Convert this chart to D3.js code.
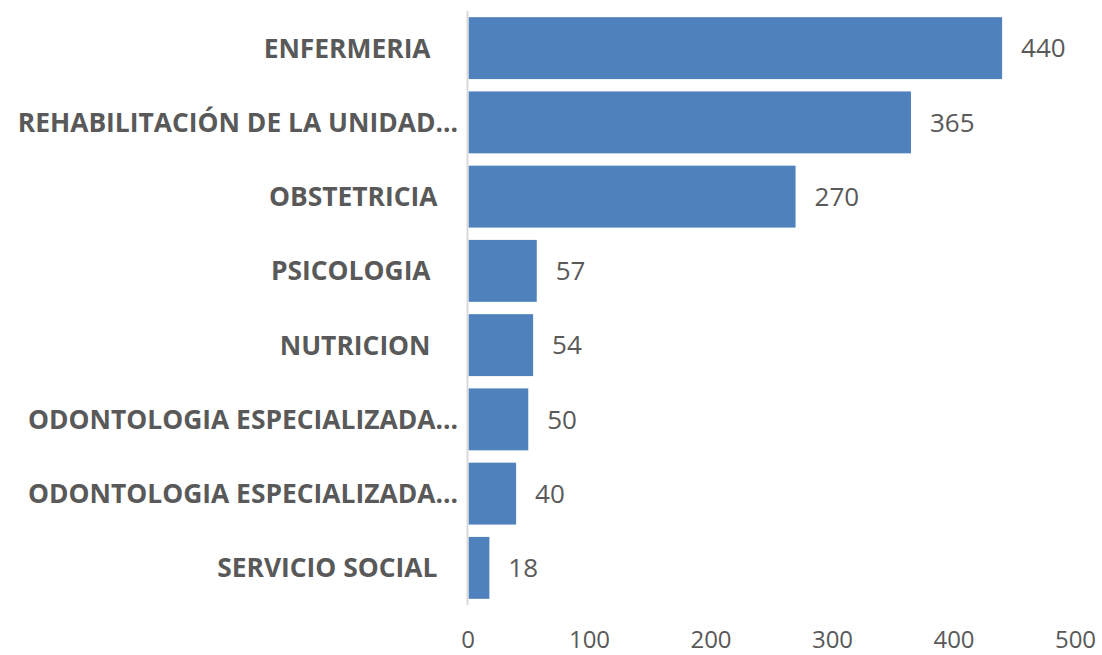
<!DOCTYPE html>
<html>
<head>
<meta charset="utf-8">
<script src="https://cdn.jsdelivr.net/npm/d3@7"></script>
<style>
  body { margin: 0; background: #fff; }
</style>
</head>
<body>
<div id="chart"></div>
<script>
// labels keep the trailing spaces they carry in the source sheet
const categories = [
  "ENFERMERIA\u00a0\u00a0\u00a0\u00a0",
  "REHABILITACIÓN DE LA UNIDAD...",
  "OBSTETRICIA\u00a0\u00a0\u00a0",
  "PSICOLOGIA\u00a0\u00a0\u00a0\u00a0",
  "NUTRICION\u00a0\u00a0\u00a0\u00a0",
  "ODONTOLOGIA ESPECIALIZADA...",
  "ODONTOLOGIA ESPECIALIZADA...",
  "SERVICIO SOCIAL\u00a0\u00a0\u00a0"
];
const values = [440, 365, 270, 57, 54, 50, 40, 18];
const ticks = [0, 100, 200, 300, 400, 500];

const width = 1102;
const height = 655;
const x0 = 467.5, x1 = 1075; // plot area left/right
const y0 = 11, y1 = 605;

const svg = d3.select("#chart")
  .append("svg")
  .attr("width", width)
  .attr("height", height);

const x = d3.scaleLinear().domain([0, 500]).range([x0, x1]);
const y = d3.scaleBand()
  .domain(d3.range(categories.length))
  .range([y0, y1])
  .paddingInner(0.166)
  .paddingOuter(0.083);

// bars
svg.selectAll("rect.bar")
  .data(values)
  .enter()
  .append("rect")
  .attr("class", "bar")
  .attr("x", x(0) + 1)
  .attr("y", (d, i) => y(i))
  .attr("width", d => x(d) - x(0) - 1)
  .attr("height", y.bandwidth())
  .attr("fill", "#4f81bd");

// vertical axis line
svg.append("line")
  .attr("x1", x(0)).attr("x2", x(0))
  .attr("y1", y0).attr("y2", y1)
  .attr("stroke", "#d9d9d9")
  .attr("stroke-width", 2);

// category labels
svg.selectAll("text.cat")
  .data(categories)
  .enter()
  .append("text")
  .attr("class", "cat")
  .attr("x", 458)
  .attr("y", (d, i) => y(i) + y.bandwidth() / 2)
  .attr("dy", "0.36em")
  .attr("text-anchor", "end")
  .style("font-family", "'Open Sans', sans-serif")
  .style("font-weight", "bold")
  .style("font-size", "26.4px")
  .attr("fill", "#595959")
  .text(d => d);

// value labels
svg.selectAll("text.val")
  .data(values)
  .enter()
  .append("text")
  .attr("class", "val")
  .attr("x", d => x(d) + 19)
  .attr("y", (d, i) => y(i) + y.bandwidth() / 2)
  .attr("dy", "0.36em")
  .style("font-family", "'Open Sans', sans-serif")
  .style("font-size", "26px")
  .attr("fill", "#595959")
  .text(d => d);

// x axis tick labels (no axis line)
const xAxis = svg.append("g")
  .attr("transform", `translate(0, ${y1})`)
  .call(d3.axisBottom(x).tickValues(ticks).tickSize(0).tickPadding(26));
xAxis.select(".domain").remove();
xAxis.selectAll("text")
  .style("font-family", "'Open Sans', sans-serif")
  .style("font-size", "24px")
  .attr("fill", "#595959");
</script>
</body>
</html>
